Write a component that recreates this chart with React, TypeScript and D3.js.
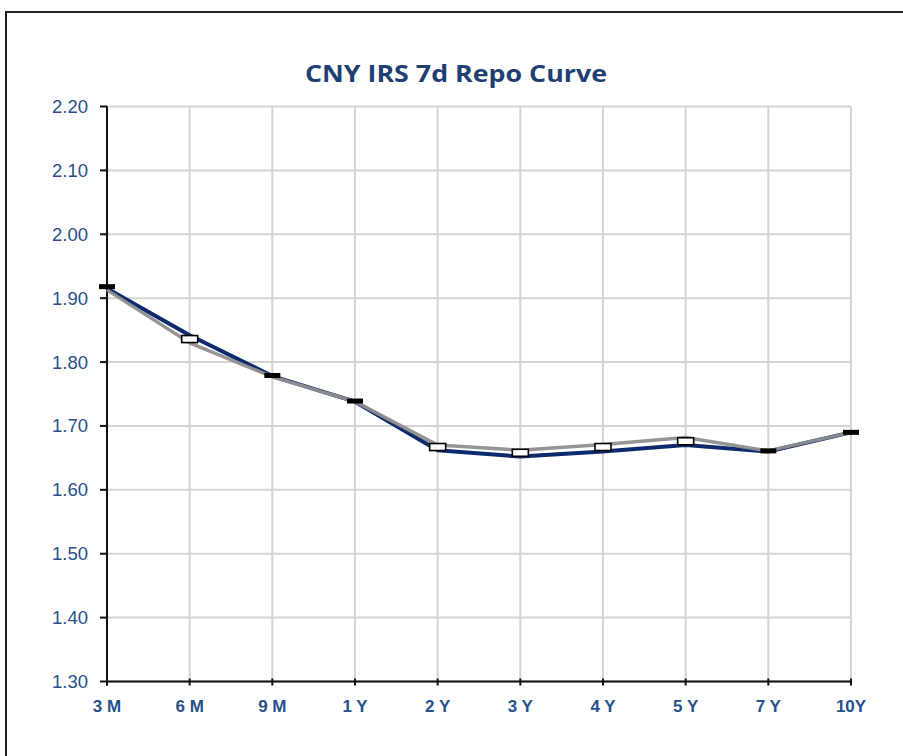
import React from "react";
import * as d3 from "d3";

const tenors = ["3 M", "6 M", "9 M", "1 Y", "2 Y", "3 Y", "4 Y", "5 Y", "7 Y", "10Y"];
const curveA = [1.915, 1.842, 1.778, 1.738, 1.662, 1.652, 1.660, 1.670, 1.660, 1.690];
const curveB = [1.913, 1.830, 1.777, 1.738, 1.670, 1.662, 1.671, 1.682, 1.661, 1.690];
const markerVals = [1.918, 1.836, 1.779, 1.739, 1.667, 1.658, 1.667, 1.676, 1.661, 1.690];
const yTicks = [1.3, 1.4, 1.5, 1.6, 1.7, 1.8, 1.9, 2.0, 2.1, 2.2];
const title = "CNY IRS 7d Repo Curve";

export default function App() {
  const W = 903, H = 756;
  const left = 107, right = 851, top = 106.5, bottom = 681.5;
  const x = d3.scalePoint<string>().domain(tenors).range([left, right]);
  const y = d3.scaleLinear().domain([1.3, 2.2]).range([bottom, top]);
  const line = d3.line<number>().x((_, i) => x(tenors[i])!).y((d) => y(d));
  const navy = "#1f3f73";
  const tickBlue = "#27508a";
  return (
    <svg width={W} height={H} style={{ position: "absolute", left: 0, top: 0 }}>
      <rect x={0} y={0} width={W} height={H} fill="#fff" />
      <rect x={6} y={12} width={W + 10} height={H + 10} fill="none" stroke="#222" strokeWidth={2} />
      <text x={456} y={82} textAnchor="middle" fontFamily="'Open Sans', sans-serif" fontWeight={700} fontSize={23}
        textLength={302} lengthAdjust="spacingAndGlyphs" fill={navy}>
        {title}
      </text>
      {yTicks.map((t) => (
        <line key={"gy" + t} x1={left} x2={right} y1={y(t)} y2={y(t)} stroke="#d4d4d4" strokeWidth={2} />
      ))}
      {tenors.map((c) => (
        <line key={"gx" + c} x1={x(c)} x2={x(c)} y1={top} y2={bottom} stroke="#d4d4d4" strokeWidth={2} />
      ))}
      <line x1={left} x2={left} y1={top} y2={bottom + 4} stroke="#111" strokeWidth={2} />
      <line x1={left - 1} x2={right + 1} y1={bottom} y2={bottom} stroke="#111" strokeWidth={2} />
      {yTicks.map((t) => (
        <g key={"ty" + t}>
          <line x1={left - 7} x2={left} y1={y(t)} y2={y(t)} stroke="#111" strokeWidth={2} />
          <text x={88} y={y(t) + 6.5} textAnchor="end" fontFamily="'Liberation Sans', Arial, sans-serif" fontSize={18.5} fill={tickBlue}>
            {t.toFixed(2)}
          </text>
        </g>
      ))}
      {tenors.map((c) => (
        <g key={"tx" + c}>
          <line x1={x(c)} x2={x(c)} y1={bottom - 3} y2={bottom + 4} stroke="#111" strokeWidth={2} />
          <text x={x(c)} y={712} textAnchor="middle" fontFamily="'Liberation Sans Narrow', 'Liberation Sans', Arial, sans-serif" fontWeight={700} fontSize={17} fill={tickBlue}>
            {c}
          </text>
        </g>
      ))}
      <path d={line(curveA)!} fill="none" stroke="#0c2b6e" strokeWidth={4} strokeLinejoin="round" />
      <path d={line(curveB)!} fill="none" stroke="#8f8f8f" strokeWidth={3.5} strokeLinejoin="round" opacity={0.95} />
      {markerVals.map((v, i) => {
        const open = Math.abs(curveA[i] - curveB[i]) > 0.004;
        const cx = x(tenors[i])!;
        const cy = y(v);
        return open ? (
          <rect key={"m" + i} x={cx - 8} y={cy - 3.5} width={16} height={7} fill="#fff" stroke="#000" strokeWidth={1.6} />
        ) : (
          <rect key={"m" + i} x={cx - 8} y={cy - 2.5} width={16} height={5} fill="#000" />
        );
      })}
    </svg>
  );
}
